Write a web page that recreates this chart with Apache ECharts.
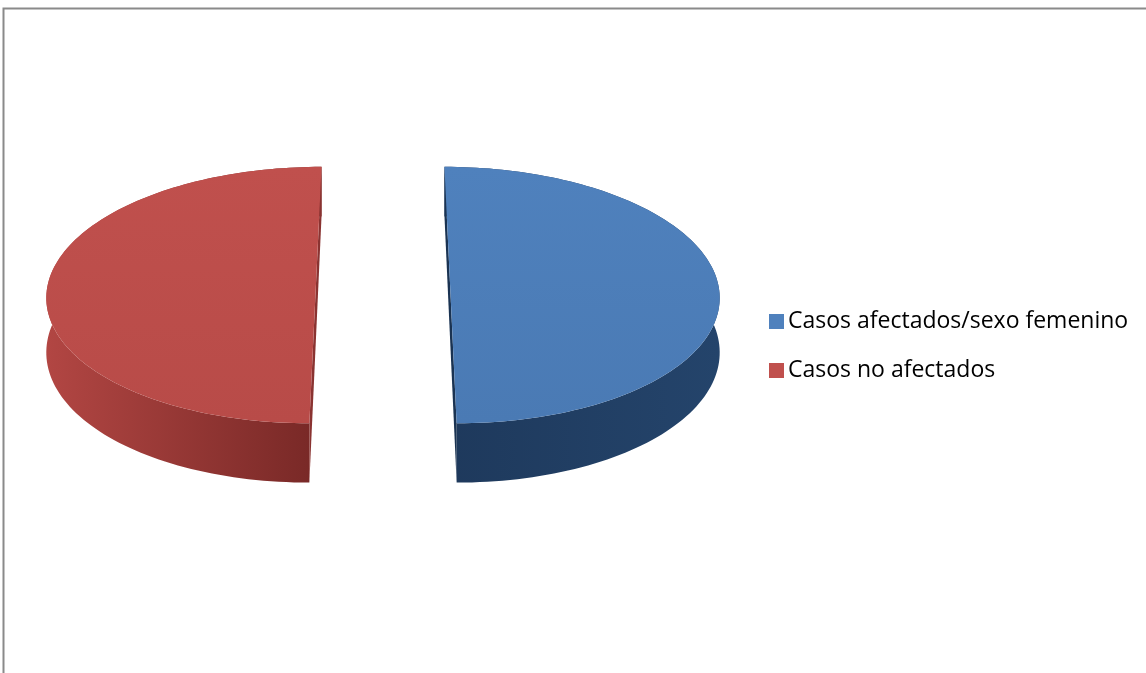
<!DOCTYPE html>
<html>
<head>
<meta charset="utf-8">
<script src="https://cdn.jsdelivr.net/npm/echarts@6/dist/echarts.min.js"></script>
<style>
  html, body { margin: 0; padding: 0; background: #fff; }
  #chart { width: 1146px; height: 673px; }
</style>
</head>
<body>
<div id="chart"></div>
<script>
// Slice data
const sliceNames = ['Casos afectados/sexo femenino', 'Casos no afectados'];
const sliceValues = [50, 50];

// Slice styling
const topColors = ['#4F81BD', '#C0504D'];
const topShade = ['#4A7AB4', '#B84B48'];
const sideLeft = ['#1E395C', '#B24643'];
const sideRight = ['#24446B', '#772826'];
const cutColors = ['#1A3352', '#8A3331'];

// 3D projection of the pie disc
const view = {
  cx: 383, cy: 283.5,   // screen centre of the disc
  R: 268,               // disc radius
  explode: 67,          // distance each slice is pulled out
  tilt: 0.4746,         // vertical squash of the disc
  persp: 0.09 / 268,    // perspective strength
  depth: 54             // disc thickness
};

function project(X, Y, Z) {
  const f = 1 / (1 + view.persp * Z);
  return [view.cx + X * f, view.cy - (Z * view.tilt + Y) * f];
}

const total = sliceValues.reduce((s, v) => s + v, 0);

function sliceStart(idx) {
  // start at the back of the disc, run clockwise seen from above
  let start = Math.PI / 2;
  for (let i = 0; i < idx; i++) start -= 2 * Math.PI * sliceValues[i] / total;
  return start;
}

function makeRenderer(idx) {
  return function (params, api) {
    const value = api.value(0);
    const a0 = sliceStart(idx);
    const a1 = a0 - 2 * Math.PI * value / total;
    const mid = (a0 + a1) / 2;
    const dx = view.explode * Math.cos(mid);
    const dz = view.explode * Math.sin(mid);
    const R = view.R, T = view.depth;
    const steps = 120;
    const topArc = [], botArc = [];
    for (let s = 0; s <= steps; s++) {
      const t = a0 + (a1 - a0) * s / steps;
      const X = dx + R * Math.cos(t), Z = dz + R * Math.sin(t);
      topArc.push(project(X, 0, Z));
      botArc.push(project(X, -T, Z));
    }
    const c0 = project(dx, 0, dz), c1 = project(dx, -T, dz);
    const children = [];
    // outer rim
    children.push({
      type: 'polygon',
      shape: { points: topArc.concat(botArc.slice().reverse()) },
      style: {
        fill: new echarts.graphic.LinearGradient(0, 0, 1, 0, [
          { offset: 0, color: sideLeft[idx] },
          { offset: 1, color: sideRight[idx] }
        ])
      }
    });
    // cut faces along the slice edges
    [0, steps].forEach(function (k) {
      children.push({
        type: 'polygon',
        shape: { points: [c0, topArc[k], botArc[k], c1] },
        style: { fill: cutColors[idx] }
      });
    });
    // top face
    children.push({
      type: 'polygon',
      shape: { points: [c0].concat(topArc) },
      style: {
        fill: new echarts.graphic.LinearGradient(0, 0, 0, 1, [
          { offset: 0, color: topColors[idx] },
          { offset: 1, color: topShade[idx] }
        ])
      }
    });
    return { type: 'group', children: children };
  };
}

const chart = echarts.init(document.getElementById('chart'), null, { renderer: 'canvas' });

chart.setOption({
  animation: false,
  backgroundColor: '#ffffff',
  graphic: [{
    type: 'polyline',
    shape: { points: [[3.5, 680], [3.5, 8.5], [1150, 8.5]] },
    style: { stroke: '#8a8a8a', lineWidth: 2, fill: null },
    silent: true
  }],
  legend: {
    orient: 'vertical',
    left: 764,
    top: 305,
    itemWidth: 15,
    itemHeight: 15,
    itemGap: 26,
    icon: 'rect',
    textStyle: { fontFamily: 'Open Sans', fontSize: 23, color: '#000', padding: [0, 0, 0, -1] },
    data: sliceNames
  },
  series: sliceNames.map(function (name, i) {
    return {
      type: 'custom',
      name: name,
      coordinateSystem: 'none',
      itemStyle: { color: topColors[i] },
      renderItem: makeRenderer(i),
      data: [sliceValues[i]]
    };
  })
});
</script>
</body>
</html>
